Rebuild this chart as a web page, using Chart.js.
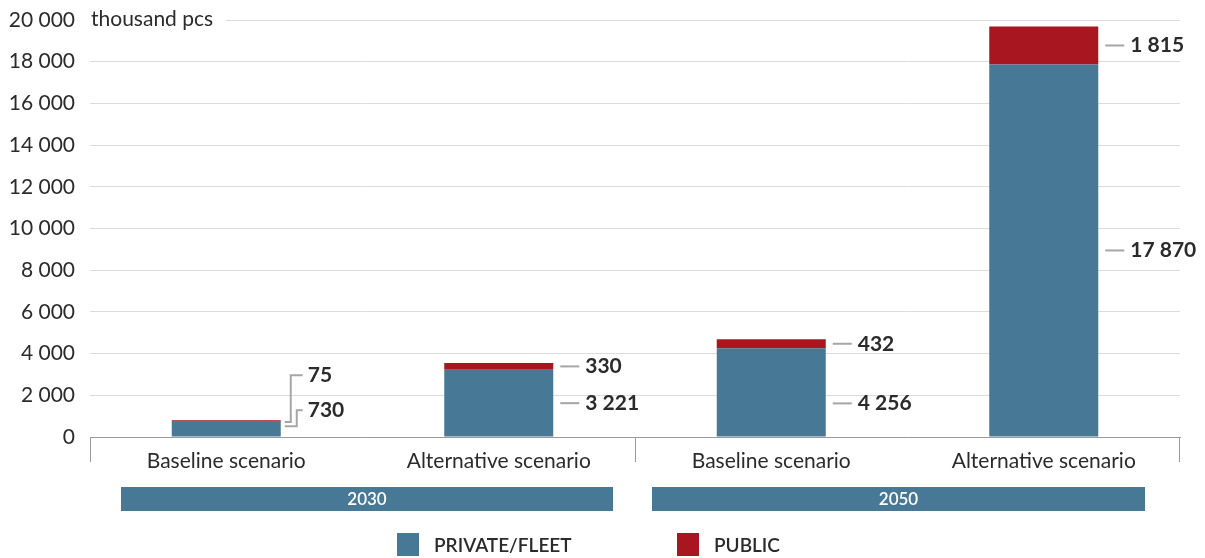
<!DOCTYPE html>
<html>
<head>
<meta charset="utf-8">
<script src="https://cdn.jsdelivr.net/npm/chart.js@4"></script>
<style>
  html, body { margin: 0; padding: 0; background: #fff; }
  #wrap { width: 1205px; height: 558px; position: relative; }
</style>
</head>
<body>
<div id="wrap"><canvas id="c" width="1205" height="558"></canvas></div>
<script>
// Charging points, thousand pcs
const categories = ['Baseline scenario', 'Alternative scenario', 'Baseline scenario', 'Alternative scenario'];
const groups = ['2030', '2050'];
const privateFleet = [730, 3221, 4256, 17870];
const publicPoints = [75, 330, 432, 1815];
const yTicks = [0, 2000, 4000, 6000, 8000, 10000, 12000, 14000, 16000, 18000, 20000];

const BLUE = '#477896';
const RED = '#a8161f';
const TEXT = '#2b2b2b';
const FONT = 'Lato, "Open Sans", sans-serif';

// horizontal extent of the year bands, in canvas pixels
const BAND_SPANS = [[121, 613], [652, 1145]];

const fmt = v => String(v).replace(/\B(?=(\d{3})+(?!\d))/g, ' ');

// Draws the unit label, value labels with leader lines, group bands and legend
const decorations = {
  id: 'decorations',
  afterDraw(chart) {
    const ctx = chart.ctx;
    const area = chart.chartArea;
    const x = chart.scales.x;
    const y = chart.scales.y;
    ctx.save();

    // unit label over the top gridline
    ctx.fillStyle = '#fff';
    ctx.fillRect(area.left, y.getPixelForValue(20000) - 4, 136, 8);
    ctx.font = '21px ' + FONT;
    ctx.fillStyle = TEXT;
    ctx.textAlign = 'left';
    ctx.textBaseline = 'middle';
    ctx.fillText('thousand pcs', area.left + 1, y.getPixelForValue(20000) - 1);

    // group separators below the axis
    ctx.strokeStyle = '#9a9a9a';
    ctx.lineWidth = 1;
    const sepX = [area.left + 0.5, Math.round((x.getPixelForValue(1) + x.getPixelForValue(2)) / 2) + 0.5, area.right - 0.5];
    sepX.forEach(sx => {
      ctx.beginPath();
      ctx.moveTo(sx, area.bottom);
      ctx.lineTo(sx, area.bottom + 25);
      ctx.stroke();
    });

    // value labels
    const metaP = chart.getDatasetMeta(0);
    const metaQ = chart.getDatasetMeta(1);
    ctx.strokeStyle = '#a6a6a6';
    ctx.lineWidth = 2;
    ctx.font = 'bold 21px ' + FONT;
    ctx.fillStyle = TEXT;
    ctx.textBaseline = 'middle';
    const shift = [0, 0, 11, 0];
    categories.forEach((c, i) => {
      const bp = metaP.data[i];
      const bq = metaQ.data[i];
      const right = bp.x + bp.width / 2;
      if (i === 0) {
        // thin segments: elbow leaders lifted above the bar
        const pc = (bp.y + bp.base) / 2;
        const qc = (bq.y + bq.base) / 2;
        const yq = bq.y - 45, yp = bq.y - 10;
        ctx.beginPath();
        ctx.moveTo(right + 4, qc + 1);
        ctx.lineTo(right + 10, qc + 1);
        ctx.lineTo(right + 10, yq);
        ctx.lineTo(right + 22, yq);
        ctx.stroke();
        ctx.beginPath();
        ctx.moveTo(right + 4, pc - 3);
        ctx.lineTo(right + 16, pc - 3);
        ctx.lineTo(right + 16, yp);
        ctx.lineTo(right + 22, yp);
        ctx.stroke();
        ctx.fillText(fmt(publicPoints[i]), right + 27, yq);
        ctx.fillText(fmt(privateFleet[i]), right + 27, yp);
      } else {
        const pc = (bp.y + bp.base) / 2 + shift[i];
        const qc = (bq.y + bq.base) / 2;
        [[pc, privateFleet[i]], [qc, publicPoints[i]]].forEach(([ly, v]) => {
          ctx.beginPath();
          ctx.moveTo(right + 7, ly);
          ctx.lineTo(right + 26, ly);
          ctx.stroke();
          ctx.fillText(fmt(v), right + 32, ly);
        });
      }
    });

    // year bands
    ctx.font = '600 17px ' + FONT;
    ctx.textAlign = 'center';
    groups.forEach((g, gi) => {
      const [x0, x1] = BAND_SPANS[gi];
      ctx.fillStyle = BLUE;
      ctx.fillRect(x0, 487, x1 - x0, 24);
      ctx.fillStyle = '#fff';
      ctx.fillText(g, (x0 + x1) / 2, 499.5);
    });

    // legend
    const items = [[BLUE, 'PRIVATE/FLEET', 397], [RED, 'PUBLIC', 677]];
    ctx.textAlign = 'left';
    ctx.font = '600 19px ' + FONT;
    items.forEach(([col, txt, lx]) => {
      ctx.fillStyle = col;
      ctx.fillRect(lx, 533, 22, 23);
      ctx.fillStyle = TEXT;
      ctx.fillText(txt, lx + 37, 546);
    });
    ctx.restore();
  }
};

new Chart(document.getElementById('c'), {
  type: 'bar',
  data: {
    labels: categories,
    datasets: [
      { label: 'PRIVATE/FLEET', data: privateFleet, backgroundColor: BLUE },
      { label: 'PUBLIC', data: publicPoints, backgroundColor: RED }
    ]
  },
  options: {
    responsive: false,
    animation: false,
    events: [],
    layout: { padding: { left: 0, right: 25, top: 0, bottom: 0 } },
    plugins: { legend: { display: false }, tooltip: { enabled: false } },
    datasets: { bar: { categoryPercentage: 1, barPercentage: 0.4 } },
    scales: {
      x: {
        stacked: true,
        grid: { display: false, drawTicks: false },
        border: { display: true, color: '#9a9a9a', width: 1 },
        ticks: { color: TEXT, font: { family: FONT, size: 21 }, padding: 12, maxRotation: 0 },
        afterFit(s) { s.height = 121; }
      },
      y: {
        stacked: true,
        min: 0,
        max: 20000,
        afterBuildTicks(s) { s.ticks = yTicks.map(v => ({ value: v })); },
        grid: { color: '#dcdcdc', lineWidth: 1, drawTicks: false },
        border: { display: false },
        ticks: { color: TEXT, font: { family: FONT, size: 21 }, padding: 15, callback: v => fmt(v) },
        afterFit(s) { s.width = 90; s.paddingTop = 20; }
      }
    }
  },
  plugins: [decorations]
});
</script>
</body>
</html>
